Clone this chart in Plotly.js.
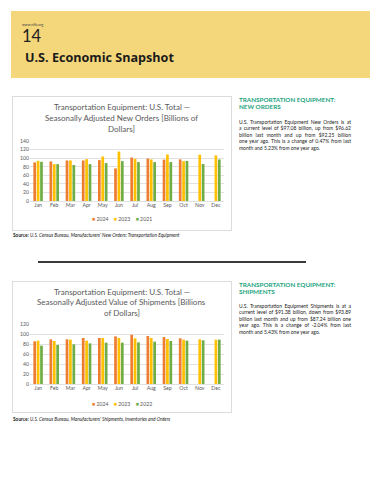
<!DOCTYPE html>
<html><head><meta charset="utf-8">
<script src="https://cdn.plot.ly/plotly-3.0.1.min.js"></script>
<style>
html,body{margin:0;padding:0;background:#fff;}
body{width:370px;height:480px;position:relative;overflow:hidden;font-family:Lato,"Open Sans",sans-serif;}
.abs{position:absolute;}
#hdr{left:11px;top:11px;width:359px;height:67px;background:#F5D77B;}
.chart{position:absolute;outline:1px solid #dcdcdc;}
.src{position:absolute;left:13px;font-size:4.8px;color:#222;white-space:nowrap;}
.src b{font-style:normal;}
.src i{font-style:italic;}
.head{position:absolute;left:239px;width:120px;font-weight:bold;font-size:6.3px;line-height:7.4px;color:#22A47E;white-space:nowrap;}
.body{position:absolute;left:239px;width:112px;font-size:5px;line-height:6.5px;color:#222;}
.body div{text-align:justify;text-align-last:justify;white-space:nowrap;}
.body div.last{text-align:left;text-align-last:left;}
</style></head>
<body>
<div id="hdr" class="abs"></div>
<div class="abs" style="left:22px;top:22px;font-size:3.6px;color:#444;">www.nfib.org</div>
<div class="abs" style="left:22px;top:26.5px;font-size:16.5px;line-height:18px;color:#222;">14</div>
<div class="abs" style="left:25px;top:49.5px;font-family:'Open Sans',sans-serif;font-size:12.6px;line-height:16px;font-weight:bold;color:#1a1a1a;white-space:nowrap;">U.S. Economic Snapshot</div>

<div id="c1" class="chart" style="left:13px;top:97px;width:218px;height:133px;"></div>
<div class="src" style="top:232px;"><b>Source:</b> <i>U.S. Census Bureau, Manufacturers' New Orders: Transportation Equipment</i></div>

<div class="abs" style="left:38px;top:261px;width:268px;height:1.5px;background:#3a3a3a;"></div>

<div id="c2" class="chart" style="left:13px;top:282px;width:218px;height:130px;"></div>
<div class="src" style="top:416px;"><b>Source:</b> <i>U.S. Census Bureau, Manufacturers' Shipments, Inventories and Orders</i></div>

<div class="head" style="top:96px;">TRANSPORTATION EQUIPMENT:<br>NEW ORDERS</div>
<div class="body" style="top:118.5px;">
<div>U.S. Transportation Equipment New Orders is at</div>
<div>a current level of $97.08 billion, up from $96.62</div>
<div>billion last month and up from $92.25 billion</div>
<div>one year ago. This is a change of 0.47% from last</div>
<div class="last">month and 5.23% from one year ago.</div>
</div>

<div class="head" style="top:281px;">TRANSPORTATION EQUIPMENT:<br>SHIPMENTS</div>
<div class="body" style="top:302.5px;">
<div>U.S. Transportation Equipment Shipments is at a</div>
<div>current level of $91.38 billion, down from $93.89</div>
<div>billion last month and up from $87.24 billion one</div>
<div>year ago. This is a change of -2.04% from last</div>
<div class="last">month and 5.43% from one year ago.</div>
</div>

<script>
var months = ['Jan','Feb','Mar','Apr','May','Jun','Jul','Aug','Sep','Oct','Nov','Dec'];

// New Orders (billions of dollars)
var orders2024 = [90, 92.3, 94.6, 94.6, 95.4, 76, 101.5, 99, 96.6, 97.1, null, null];
var orders2023 = [93.8, 86, 94.6, 97.7, 103.8, 115.4, 98.5, 97, 108.5, 93, 108, 106.5];
var orders2021 = [91.5, 86, 84, 86, 88.5, 93, 90.8, 90.8, 90.8, 93.5, 86.3, 97];
var ordersYears = ['2024','2023','2021'];
var ordersTicks = [0,20,40,60,80,100,120,140];
var ordersTitle = ['Transportation Equipment: U.S. Total —','Seasonally Adjusted New Orders [Billions of','Dollars]'];

// Shipments (billions of dollars)
var ship2024 = [85.3, 89.3, 89.3, 92, 92, 95.3, 98.5, 96, 93.9, 91.4, null, null];
var ship2023 = [86.7, 86, 88.7, 86.7, 92, 92, 91.3, 92, 90, 88.7, 89.4, 88.7];
var ship2022 = [76.7, 78, 79.3, 81.3, 82.7, 82.7, 83.3, 84.7, 86, 86.7, 87.4, 88.7];
var shipYears = ['2024','2023','2022'];
var shipTicks = [0,20,40,60,80,100,120];
var shipTitle = ['Transportation Equipment: U.S. Total —','Seasonally Adjusted Value of Shipments [Billions','of Dollars]'];

var colors = ['#ED7D31','#FFC000','#70AD47'];
var FONT = 'Lato, "Open Sans", sans-serif';
var GREY = '#595959';

function makeChart(id, series, years, ticks, titleLines, h, mt, mb, titleY, legendY) {
  var traces = series.map(function(s, i) {
    return {type:'bar', x:months, y:s, name:years[i], marker:{color:colors[i]}, hoverinfo:'none'};
  });
  var ann = titleLines.map(function(t, i) {
    return {text:t, xref:'paper', yref:'paper', x:0.474, y:titleY[i], xanchor:'center', yanchor:'middle',
            showarrow:false, font:{family:FONT, size:8.0, color:GREY}};
  });
  var legTxt = years.map(function(y, i) {
    return '<span style="color:' + colors[i] + '">■</span> ' + y;
  }).join('    ');
  ann.push({text:legTxt, xref:'paper', yref:'paper', x:0.474, y:legendY, xanchor:'center', yanchor:'middle',
            showarrow:false, font:{family:FONT, size:5.2, color:GREY}});
  var layout = {
    width:218, height:h,
    margin:{l:17, r:7, t:mt, b:mb, pad:0},
    paper_bgcolor:'#fff', plot_bgcolor:'#fff',
    barmode:'group', bargap:0.37, bargroupgap:0.2,
    showlegend:false,
    xaxis:{type:'category', categoryorder:'array', categoryarray:months, tickfont:{family:FONT, size:5.2, color:GREY},
           showgrid:false, showline:false, zeroline:false, ticks:'', fixedrange:true},
    yaxis:{range:[0, ticks[ticks.length-1]], tickvals:ticks, ticktext:ticks.map(String), tickfont:{family:FONT, size:5.2, color:GREY},
           showgrid:true, gridcolor:'#d9d9d9', gridwidth:0.8, zeroline:true, zerolinecolor:'#d9d9d9', zerolinewidth:0.8,
           showline:false, ticks:'', fixedrange:true},
    annotations:ann
  };
  Plotly.newPlot(id, traces, layout, {staticPlot:true, displayModeBar:false});
}

makeChart('c1', [orders2024, orders2023, orders2021], ordersYears, ordersTicks, ordersTitle, 133, 44, 29,
          [1.567, 1.383, 1.207], -0.305);
makeChart('c2', [ship2024, ship2023, ship2022], shipYears, shipTicks, shipTitle, 130, 42, 28,
          [1.538, 1.36, 1.18], -0.328);
</script>
</body></html>
